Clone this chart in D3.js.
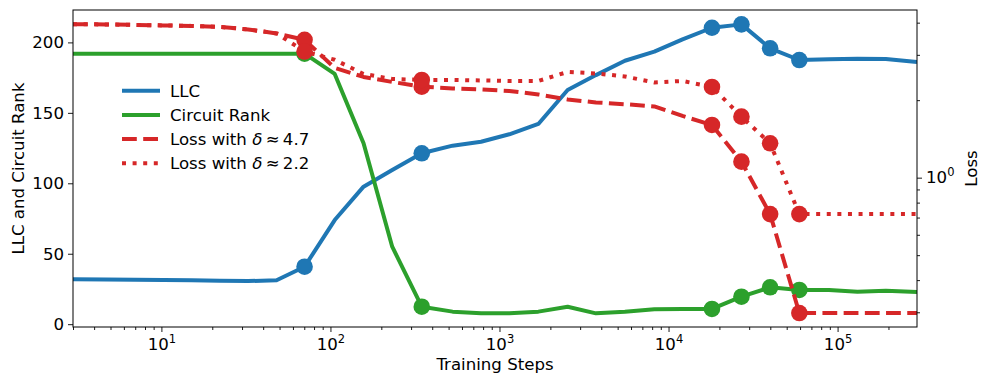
<!DOCTYPE html>
<html>
<head>
<meta charset="utf-8">
<script src="https://cdn.jsdelivr.net/npm/d3@7"></script>
<style>
  body { margin: 0; background: #fff; }
  svg { font-family: "DejaVu Sans", sans-serif; }
</style>
</head>
<body>
<div id="chart"></div>
<script>
// training steps (log x)
const steps = [3, 4.7, 7, 10.3, 15.1, 22.2, 32.6, 48, 70.3, 106, 157, 232, 347, 528, 778,
  1143, 1698, 2530, 3720, 5520, 8240, 12100, 18070, 27000, 39900, 59400, 89000, 131000, 193000, 295000];

const llc = [31.9, 31.7, 31.5, 31.3, 31.1, 30.8, 30.6, 31.2, 40.8, 73.9, 97.6, 109.5, 121.3, 126.7, 129.5,
  134.8, 142.1, 166.2, 176.8, 187, 193.4, 202.2, 210.4, 212.8, 195.8, 187.5, 188, 188.4, 188.2, 186.1];

const circuitRank = [192, 192, 192, 192, 192, 192, 192, 192, 192, 177.6, 128.4, 55, 12.4, 8.9, 7.7,
  7.7, 8.9, 12.4, 7.7, 8.9, 10.6, 10.8, 10.8, 19.5, 26.2, 24.3, 24.3, 23.1, 23.8, 22.8];

const lossHigh = [3.945, 3.937, 3.92, 3.903, 3.886, 3.851, 3.765, 3.634, 3.43, 2.668, 2.462, 2.354, 2.257, 2.221, 2.201,
  2.172, 2.105, 2.013, 1.96, 1.929, 1.891, 1.737, 1.602, 1.154, 0.722, 0.298, 0.298, 0.298, 0.298, 0.298];

const lossLow = [3.945, 3.937, 3.92, 3.903, 3.886, 3.851, 3.765, 3.634, 3.09, 2.87, 2.529, 2.417, 2.397, 2.397, 2.386,
  2.375, 2.375, 2.575, 2.54, 2.473, 2.344, 2.375, 2.251, 1.726, 1.36, 0.722, 0.722, 0.722, 0.722, 0.722];

// indices that get a dot
const markIdx = [8, 12, 22, 23, 24, 25];

const xMajor = [10, 100, 1000, 10000, 100000];
const yLeftTicks = [0, 50, 100, 150, 200];
const yRightMajor = [1];
const yRightMinor = [0.3, 0.4, 0.5, 0.6, 0.7, 0.8, 0.9, 2, 3, 4];

const series = [
  { name: 'LLC', values: llc, axis: 'left', color: '#1f77b4', dash: null },
  { name: 'Circuit Rank', values: circuitRank, axis: 'left', color: '#2ca02c', dash: null },
  { name: 'Loss with ', sym: '4.7', values: lossHigh, axis: 'right', color: '#d62728', dash: '14.8,6.4' },
  { name: 'Loss with ', sym: '2.2', values: lossLow, axis: 'right', color: '#d62728', dash: '4,6.6' },
];

const W = 989, H = 386;
const m = { left: 73, right: 72, top: 10, bottom: 59 };
const fs = 16.6;

const svg = d3.select('#chart').append('svg')
  .attr('width', W).attr('height', H);

const x = d3.scaleLog().domain([3, 295000]).range([m.left, W - m.right]);
const yL = d3.scaleLinear().domain([-2, 223]).range([H - m.bottom, m.top]);
const yR = d3.scaleLog().domain([0.263, 4.48]).range([H - m.bottom, m.top]);

svg.append('clipPath').attr('id', 'clip')
  .append('rect')
  .attr('x', m.left).attr('y', m.top)
  .attr('width', W - m.left - m.right).attr('height', H - m.top - m.bottom);

// x minor ticks
const xMinor = [];
for (let e = 0; e <= 5; e++) {
  for (let k = 2; k <= 9; k++) {
    const v = k * Math.pow(10, e);
    if (v >= 3 && v <= 295000) xMinor.push(v);
  }
}

function sup(sel) {
  sel.each(function (d) {
    const t = d3.select(this);
    t.text('');
    t.append('tspan').text('10');
    t.append('tspan').attr('dy', -7).attr('font-size', 11.5).text(Math.round(Math.log10(d)));
  });
}

const gx = svg.append('g').attr('transform', `translate(0,${H - m.bottom})`);
gx.call(d3.axisBottom(x).tickValues(xMinor).tickSize(3).tickFormat(''));
gx.append('g').call(d3.axisBottom(x).tickValues(xMajor).tickSize(5))
  .selectAll('.tick text').attr('dy', null).attr('y', 23).call(sup);

const gl = svg.append('g').attr('transform', `translate(${m.left},0)`)
  .call(d3.axisLeft(yL).tickValues(yLeftTicks).tickSize(5));
gl.selectAll('.tick text').attr('x', -9);

const gr = svg.append('g').attr('transform', `translate(${W - m.right},0)`);
gr.call(d3.axisRight(yR).tickValues(yRightMinor).tickSize(3).tickFormat(''));
gr.append('g').call(d3.axisRight(yR).tickValues(yRightMajor).tickSize(5))
  .selectAll('.tick text').attr('x', 9).call(sup);

svg.selectAll('.domain').remove();
svg.selectAll('.tick line').attr('stroke', '#000').attr('stroke-width', 0.9);
svg.selectAll('.tick text').attr('font-size', fs).attr('fill', '#000')
  .attr('font-family', '"DejaVu Sans", sans-serif');

// lines
const plot = svg.append('g').attr('clip-path', 'url(#clip)');
series.forEach((s) => {
  const y = s.axis === 'left' ? yL : yR;
  const line = d3.line().x((d, i) => x(steps[i])).y((d) => y(d));
  plot.append('path')
    .datum(s.values)
    .attr('d', line)
    .attr('fill', 'none')
    .attr('stroke', s.color)
    .attr('stroke-width', 4)
    .attr('stroke-linejoin', 'round')
    .attr('stroke-dasharray', s.dash);
  plot.selectAll(null)
    .data(markIdx)
    .join('circle')
    .attr('cx', (i) => x(steps[i]))
    .attr('cy', (i) => y(s.values[i]))
    .attr('r', 8.3)
    .attr('fill', s.color);
});

// frame
svg.append('rect')
  .attr('x', m.left).attr('y', m.top)
  .attr('width', W - m.left - m.right).attr('height', H - m.top - m.bottom)
  .attr('fill', 'none').attr('stroke', '#000').attr('stroke-width', 1);

// axis labels
svg.append('text')
  .attr('x', (m.left + W - m.right) / 2).attr('y', 370)
  .attr('text-anchor', 'middle').attr('font-size', fs)
  .text('Training Steps');

svg.append('text')
  .attr('transform', `translate(24,${(m.top + H - m.bottom) / 2}) rotate(-90)`)
  .attr('text-anchor', 'middle').attr('font-size', fs)
  .text('LLC and Circuit Rank');

svg.append('text')
  .attr('transform', `translate(976.5,${(m.top + H - m.bottom) / 2}) rotate(-90)`)
  .attr('text-anchor', 'middle').attr('font-size', fs)
  .text('Loss');

// legend
const leg = svg.append('g').attr('transform', 'translate(122,90.7)');
series.forEach((s, i) => {
  const row = leg.append('g').attr('transform', `translate(0,${i * 24.2})`);
  row.append('line')
    .attr('x1', 0).attr('x2', 38)
    .attr('stroke', s.color).attr('stroke-width', 4)
    .attr('stroke-dasharray', s.dash);
  const t = row.append('text').attr('x', 48).attr('y', 6).attr('font-size', fs);
  t.append('tspan').text(s.name);
  if (s.sym) {
    t.append('tspan').attr('font-style', 'italic').text('δ');
    t.append('tspan').text('\u2009≈\u2009' + s.sym);
  }
});
</script>
</body>
</html>
